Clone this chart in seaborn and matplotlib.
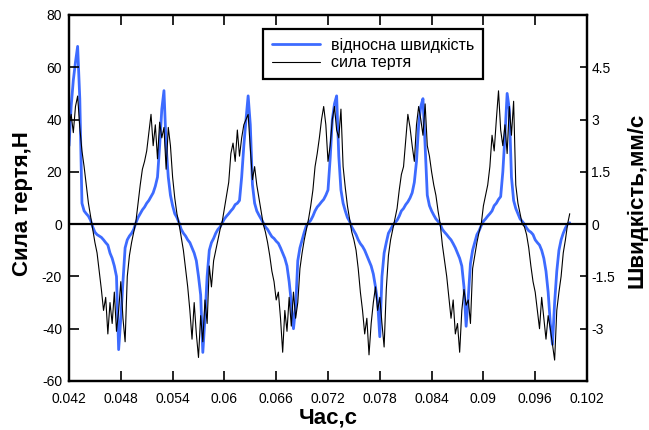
import numpy as np
import matplotlib
matplotlib.use("Agg")
import matplotlib.pyplot as plt
import seaborn as sns

# ---- data ----
t_start = 0.042        # s, first sample
t_step = 0.00025       # s, sampling step

# friction force, N (left axis)
friction_force = [
    38, 42, 35, 45, 49, 37, 28, 22, 15, 8, 3,
    -2, -7, -11, -18, -25, -33, -28, -42, -30, -38, -26, -41, -33, -22, -36, -45, -20, -12, -7, -3, 1,
    8, 15, 21, 24, 28, 35, 42, 30, 38, 25, 39, 33, 37, 21, 37, 30, 18, 10, 4, 0,
    -5, -10, -17, -24, -33, -44, -30, -42, -51, -35, -45, -29, -38, -16, -24, -14, -10, -6, -2, 1,
    6, 11, 16, 27, 31, 24, 36, 26, 33, 38, 40, 42, 29, 17, 22, 15, 10, 5, 0,
    -3, -7, -12, -18, -22, -29, -26, -36, -49, -33, -41, -28, -39, -26, -36, -30, -17, -11, -6, -2,
    2, 7, 13, 22, 27, 33, 40, 45, 38, 24, 30, 40, 45, 36, 33, 44, 22, 14, 7, 2,
    -3, -6, -10, -17, -26, -33, -42, -36, -50, -38, -30, -24, -33, -28, -38, -47, -25, -12, -6, -2,
    2, 6, 13, 19, 22, 32, 42, 37, 30, 24, 38, 45, 40, 34, 46, 30, 26, 20, 15, 11, 5, 0,
    -8, -14, -20, -28, -36, -29, -42, -38, -49, -33, -25, -31, -29, -38, -17, -12, -7, -3, 0,
    7, 11, 15, 22, 34, 28, 40, 51, 36, 30, 38, 27, 45, 34, 47, 15, 8, 4, 0,
    -1, -4, -9, -16, -22, -26, -33, -40, -28, -36, -44, -35, -40, -46, -52, -33, -26, -20, -11, -6, 0, 4,
]

# relative velocity, mm/s (right axis)
rel_velocity = [
    2.25, 3.38, 4.13, 4.65, 5.1, 3.6, 0.6, 0.38, 0.3, 0.23, 0.11,
    -0.08, -0.23, -0.3, -0.34, -0.38, -0.45, -0.53, -0.6, -0.83, -0.98, -1.2, -1.5, -3.6, -2.7, -1.65, -0.68, -0.45, -0.34, -0.26, -0.15, 0.04,
    0.19, 0.3, 0.41, 0.49, 0.6, 0.68, 0.79, 0.9, 1.09, 1.35, 2.25, 3.3, 3.83, 2.25, 1.35, 0.83, 0.53, 0.3, 0.19, 0.04,
    -0.15, -0.26, -0.34, -0.45, -0.53, -0.68, -0.83, -1.05, -1.5, -2.03, -3.68, -2.7, -1.5, -0.75, -0.53, -0.41, -0.26, -0.15, -0.08, 0.04,
    0.15, 0.23, 0.3, 0.38, 0.45, 0.56, 0.6, 0.68, 1.35, 2.25, 3.0, 3.68, 2.85, 1.13, 0.6, 0.38, 0.26, 0.15, 0.04,
    -0.08, -0.15, -0.26, -0.36, -0.41, -0.49, -0.55, -0.68, -0.83, -0.98, -1.2, -1.65, -2.25, -3.0, -2.4, -1.05, -0.68, -0.45, -0.23, -0.04,
    0.04, 0.11, 0.23, 0.38, 0.49, 0.56, 0.64, 0.71, 0.83, 0.98, 1.88, 3.0, 3.45, 3.68, 1.95, 0.98, 0.6, 0.38, 0.19, 0.08,
    -0.08, -0.19, -0.3, -0.45, -0.56, -0.64, -0.75, -0.9, -1.05, -1.2, -1.43, -1.8, -2.25, -3.23, -1.5, -0.83, -0.53, -0.26, -0.15, -0.04,
    0.04, 0.11, 0.23, 0.38, 0.45, 0.56, 0.64, 0.75, 0.9, 1.2, 1.8, 2.85, 3.38, 3.6, 2.25, 0.83, 0.53, 0.38, 0.26, 0.15, 0.08, 0.0,
    -0.15, -0.23, -0.3, -0.38, -0.45, -0.56, -0.68, -0.83, -0.98, -1.2, -1.8, -2.93, -2.1, -1.13, -0.75, -0.53, -0.3, -0.19, -0.04,
    0.08, 0.15, 0.23, 0.3, 0.38, 0.53, 0.6, 0.71, 0.79, 1.5, 2.55, 3.75, 3.3, 1.35, 0.68, 0.45, 0.3, 0.15, 0.08,
    0.0, -0.11, -0.19, -0.23, -0.3, -0.45, -0.53, -0.6, -0.75, -0.98, -1.35, -1.95, -2.85, -3.45, -2.25, -1.35, -0.75, -0.45, -0.26, -0.11, 0.0, 0.04,
]

x_ticks = [0.042, 0.048, 0.054, 0.060, 0.066, 0.072, 0.078, 0.084, 0.090, 0.096, 0.102]
x_tick_labels = ["0.042", "0.048", "0.054", "0.06", "0.066", "0.072", "0.078",
                 "0.084", "0.09", "0.096", "0.102"]
left_ticks = [-60, -40, -20, 0, 20, 40, 60, 80]
left_tick_labels = ["-60", "-40", "-20", "0", "20", "40", "60", "80"]
right_ticks = [-3, -1.5, 0, 1.5, 3, 4.5]
right_tick_labels = ["-3", "-1.5", "0", "1.5", "3", "4.5"]

label_velocity = "відносна швидкість"
label_force = "сила тертя"

time = t_start + t_step * np.arange(len(friction_force))

# ---- style ----
sns.set_style("ticks")
plt.rcParams["font.family"] = ["Liberation Sans", "DejaVu Sans"]
plt.rcParams["axes.unicode_minus"] = False
plt.rcParams["text.color"] = "black"
plt.rcParams["axes.labelcolor"] = "black"
plt.rcParams["xtick.color"] = "black"
plt.rcParams["ytick.color"] = "black"

BLUE = "#3d6bff"

fig = plt.figure(figsize=(6.49, 4.30), dpi=100)
ax = fig.add_axes([69 / 649, 1 - 381 / 430, 518 / 649, 366 / 430])
ax2 = ax.twinx()

sns.lineplot(x=time, y=rel_velocity, ax=ax2, color=BLUE, linewidth=2.0,
             estimator=None, legend=False)
sns.lineplot(x=time, y=friction_force, ax=ax, color="black", linewidth=0.8,
             estimator=None, legend=False)
ax.axhline(0, color="black", linewidth=1.6, zorder=3)

# black on top of blue
ax.set_zorder(ax2.get_zorder() + 1)
ax.patch.set_visible(False)

ax.set_xlim(0.042, 0.102)
ax.set_ylim(-60, 80)
ax2.set_ylim(-4.5, 6)

ax.set_xticks(x_ticks)
ax.set_xticklabels(x_tick_labels)
ax.set_yticks(left_ticks)
ax.set_yticklabels(left_tick_labels)
ax2.set_yticks(right_ticks)
ax2.set_yticklabels(right_tick_labels)

ax.tick_params(axis="x", direction="in", top=True, bottom=True, length=7,
               width=1.2, labelsize=10, pad=8, colors="black")
ax.tick_params(axis="y", direction="in", left=True, right=False, length=7,
               width=1.2, labelsize=10, pad=5, colors="black")
ax2.tick_params(axis="y", direction="in", right=True, length=5,
                width=1.2, labelsize=10, pad=3, colors="black")

for a in (ax, ax2):
    for s in a.spines.values():
        s.set_linewidth(1.6)
        s.set_color("black")
        s.set_visible(True)

ax.set_xlabel("Час,с", fontsize=16, fontweight="bold", color="black")
ax.xaxis.label.set_verticalalignment("baseline")
ax.xaxis.set_label_coords(0.5, -0.117)

ax.set_ylabel("Сила тертя,Н", fontsize=16, fontweight="bold", color="black")
ax.yaxis.label.set(rotation=90, rotation_mode="anchor", va="baseline", ha="center")
ax.yaxis.set_label_coords(-0.079, 0.484)

ax2.set_ylabel("Швидкість,мм/с", fontsize=16, fontweight="bold", color="black")
ax2.yaxis.label.set(rotation=90, rotation_mode="anchor", va="baseline", ha="center")
ax2.yaxis.set_label_coords(1.108, 0.493)

h_vel = ax2.get_lines()[0]
h_force = ax.get_lines()[0]
leg = ax.legend([h_vel, h_force], [label_velocity, label_force],
                loc="upper left", bbox_to_anchor=(0.3745, 0.9617),
                borderaxespad=0, frameon=True, fancybox=False,
                edgecolor="black", framealpha=1, fontsize=11.5,
                handlelength=3.0, handletextpad=0.7, labelspacing=0.15,
                borderpad=0.55, labelcolor="black")
leg.get_frame().set_linewidth(1.6)
leg.set_zorder(10)

fig.savefig("out.png", dpi=100)
